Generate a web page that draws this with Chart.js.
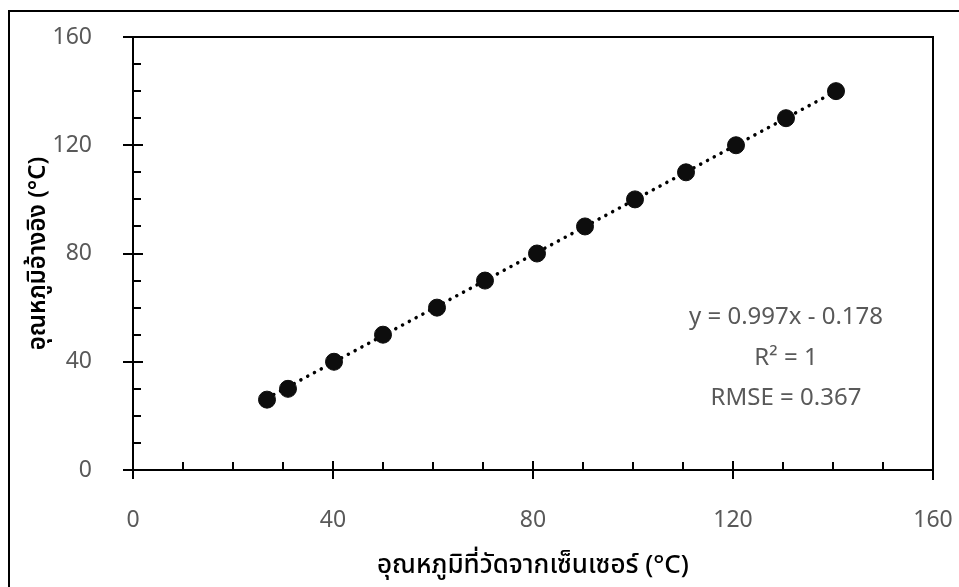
<!DOCTYPE html>
<html>
<head>
<meta charset="utf-8">
<script src="https://cdn.jsdelivr.net/npm/chart.js@4.4.1/dist/chart.umd.min.js"></script>
<style>
  html, body { margin: 0; padding: 0; background: #fff; }
  #wrap { width: 959px; height: 587px; position: relative; }
</style>
</head>
<body>
<div id="wrap"><canvas id="c" width="959" height="587"></canvas></div>
<script>
// ---- data ----
const sensorTemp = [26.8, 31, 40.2, 50, 60.8, 70.4, 80.8, 90.4, 100.4, 110.6, 120.6, 130.6, 140.6];
const referenceTemp = [26, 30, 40, 50, 60, 70, 80, 90, 100, 110, 120, 130, 140];
const trendSlope = 0.997;
const trendIntercept = -0.178;
const axisMin = 0;
const axisMax = 160;
const majorStep = 40;
const minorStep = 10;
const xTitle = 'อุณหภูมิที่วัดจากเซ็นเซอร์ (°C)';
const yTitle = 'อุณหภูมิอ้างอิง (°C)';
const annotationLines = ['y = 0.997x - 0.178', 'R² = 1', 'RMSE = 0.367'];

const points = sensorTemp.map((x, i) => ({ x: x, y: referenceTemp[i] }));
const xLo = Math.min(...sensorTemp), xHi = Math.max(...sensorTemp);
const trend = [
  { x: xLo, y: trendSlope * xLo + trendIntercept },
  { x: xHi, y: trendSlope * xHi + trendIntercept }
];

const FONT = "'Noto Sans', 'Noto Sans Thai', sans-serif";

function noPad(s) {
  s.paddingLeft = 0; s.paddingRight = 0; s.paddingTop = 0; s.paddingBottom = 0;
}

const frame = {
  id: 'frame',
  beforeDraw(chart) {
    const ctx = chart.ctx;
    ctx.save();
    ctx.fillStyle = '#fff';
    ctx.fillRect(0, 0, chart.width, chart.height);
    ctx.strokeStyle = '#000';
    ctx.lineWidth = 2;
    ctx.strokeRect(9, 11, 1200, 1200);
    ctx.restore();
  },
  afterDatasetsDraw(chart) {
    const ctx = chart.ctx;
    const a = chart.chartArea;
    const xs = chart.scales.x, ys = chart.scales.y;
    ctx.save();
    ctx.strokeStyle = '#000';
    ctx.lineWidth = 2;
    // top and right border
    ctx.beginPath();
    ctx.moveTo(a.left - 10, a.top);
    ctx.lineTo(a.right, a.top);
    ctx.lineTo(a.right, a.bottom + 10);
    ctx.stroke();
    // axes
    ctx.beginPath();
    ctx.moveTo(a.left, a.top);
    ctx.lineTo(a.left, a.bottom + 8);
    ctx.moveTo(a.left - 10, a.bottom);
    ctx.lineTo(a.right, a.bottom);
    ctx.stroke();
    // ticks
    ctx.beginPath();
    for (let v = axisMin; v <= axisMax; v += minorStep) {
      const px = Math.round(xs.getPixelForValue(v));
      const py = Math.round(ys.getPixelForValue(v));
      if (v % majorStep === 0) {
        ctx.moveTo(px, a.bottom - 9); ctx.lineTo(px, a.bottom + 9);
        ctx.moveTo(a.left - 10, py); ctx.lineTo(a.left + 10, py);
      } else {
        ctx.moveTo(px, a.bottom); ctx.lineTo(px, a.bottom - 8);
        ctx.moveTo(a.left, py); ctx.lineTo(a.left + 8, py);
      }
    }
    ctx.stroke();
    // annotation
    ctx.fillStyle = '#595959';
    ctx.font = '24px ' + FONT;
    ctx.textAlign = 'center';
    ctx.textBaseline = 'middle';
    const cx = xs.getPixelForValue(130.6);
    annotationLines.forEach((t, i) => {
      ctx.fillText(t, cx, ys.getPixelForValue(56.5 - i * 15));
    });
    ctx.restore();
  }
};

new Chart(document.getElementById('c'), {
  type: 'scatter',
  data: {
    datasets: [
      {
        label: 'trend',
        type: 'line',
        data: trend,
        borderColor: '#000',
        borderWidth: 3.5,
        borderDash: [0.1, 7.6],
        borderCapStyle: 'round',
        pointRadius: 0,
        fill: false,
        order: 2
      },
      {
        label: 'data',
        data: points,
        backgroundColor: '#0d0d0d',
        borderColor: '#0d0d0d',
        pointRadius: 8.5,
        pointHoverRadius: 8.5,
        order: 1
      }
    ]
  },
  options: {
    responsive: false,
    animation: false,
    events: [],
    layout: { padding: { left: 0, top: 37, right: 26, bottom: 0 } },
    plugins: { legend: { display: false }, tooltip: { enabled: false } },
    scales: {
      x: {
        type: 'linear',
        min: axisMin, max: axisMax,
        afterFit: s => { s.height = 117; noPad(s); },
        grid: { display: false },
        border: { display: false },
        ticks: {
          stepSize: majorStep, color: '#595959', padding: 29,
          font: { family: FONT, size: 23 }
        },
        title: {
          display: true, text: xTitle, color: '#000',
          font: { family: FONT, size: 26, weight: '500' }, padding: { top: 6, bottom: 6 }
        }
      },
      y: {
        type: 'linear',
        min: axisMin, max: axisMax,
        afterFit: s => { s.width = 133; noPad(s); },
        grid: { display: false },
        border: { display: false },
        ticks: {
          stepSize: majorStep, color: '#595959', padding: 33,
          font: { family: FONT, size: 23 }
        },
        title: {
          display: true, text: yTitle, color: '#000',
          font: { family: FONT, size: 24, weight: '600' }, padding: { top: 24, bottom: 0 }
        }
      }
    }
  },
  plugins: [frame]
});
</script>
</body>
</html>
